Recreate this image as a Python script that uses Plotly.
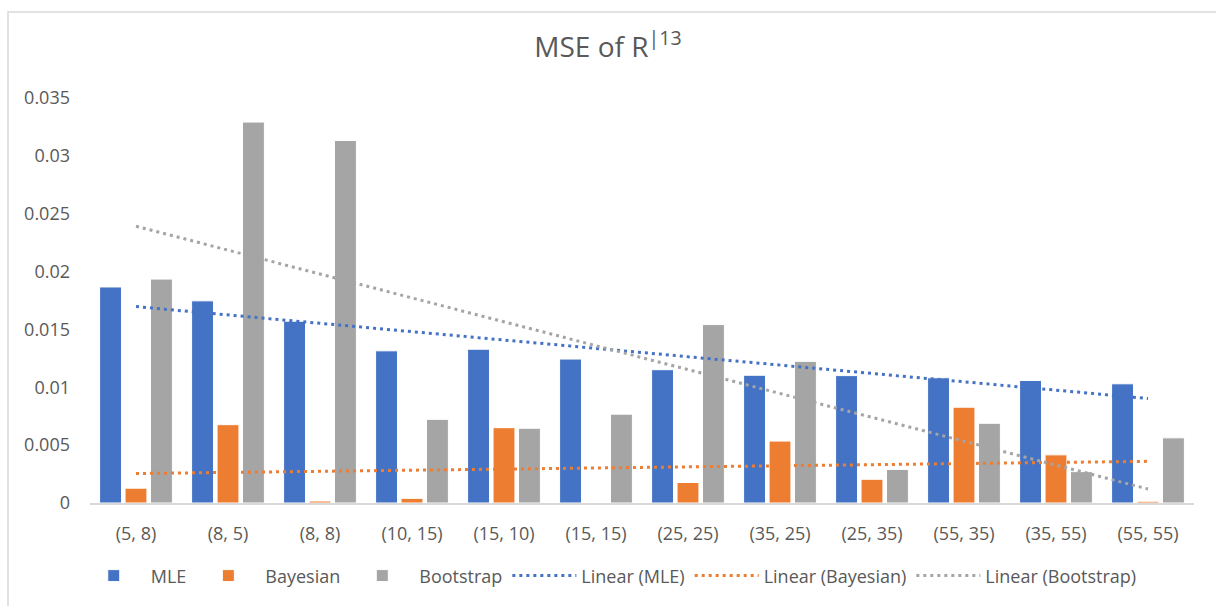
import numpy as np
import plotly.graph_objects as go

# Sample-size pairs (m, n)
categories = ["(5, 8)", "(8, 5)", "(8, 8)", "(10, 15)", "(15, 10)", "(15, 15)",
              "(25, 25)", "(35, 25)", "(25, 35)", "(55, 35)", "(35, 55)", "(55, 55)"]

mle = [0.01867, 0.01747, 0.01571, 0.01315, 0.01329, 0.01244,
       0.01152, 0.01104, 0.01101, 0.01082, 0.01059, 0.01030]
bayesian = [0.00128, 0.00677, 0.00017, 0.00040, 0.00651, 0.00000,
            0.00177, 0.00535, 0.00205, 0.00828, 0.00416, 0.00015]
bootstrap = [0.01935, 0.03292, 0.03133, 0.00723, 0.00646, 0.00768,
             0.01542, 0.01224, 0.00290, 0.00689, 0.00271, 0.00563]

y_ticks = [0, 0.005, 0.01, 0.015, 0.02, 0.025, 0.03, 0.035]
y_tick_text = ["0", "0.005", "0.01", "0.015", "0.02", "0.025", "0.03", "0.035"]

series = [("MLE", mle, "#4472C4"),
          ("Bayesian", bayesian, "#ED7D31"),
          ("Bootstrap", bootstrap, "#A5A5A5")]

FONT = "'Open Sans', 'Noto Sans', sans-serif"
TEXT_COLOR = "#595959"

fig = go.Figure()

for name, vals, color in series:
    fig.add_trace(go.Bar(
        x=categories, y=vals, name=name,
        marker=dict(color=color, line=dict(color="#FFFFFF", width=1)),
    ))

# Least-squares linear trend of each series over the category index
idx = np.arange(1, len(categories) + 1)
for name, vals, color in series:
    slope, intercept = np.polyfit(idx, np.array(vals), 1)
    fig.add_trace(go.Scatter(
        x=categories, y=slope * idx + intercept, name=f"Linear ({name})",
        mode="lines", line=dict(color=color, width=3, dash="3px,4px"),
    ))

fig.update_layout(
    width=1216, height=606,
    margin=dict(l=90, r=22, t=98, b=98),
    paper_bgcolor="white", plot_bgcolor="white",
    font=dict(family=FONT, color=TEXT_COLOR, size=18),
    title=dict(text="MSE of R<sup>|13</sup>", x=0.5, xanchor="center",
               y=1 - 47 / 606, yanchor="middle",
               font=dict(family=FONT, size=28, color=TEXT_COLOR)),
    barmode="group", bargap=0.17, bargroupgap=0.14,
    showlegend=True,
    legend=dict(orientation="h", x=-0.012, xanchor="left", y=-0.18, yanchor="middle",
                font=dict(family=FONT, size=18, color=TEXT_COLOR),
                traceorder="normal", itemwidth=64),
    xaxis=dict(showgrid=False, showline=True, linecolor="#D9D9D9", linewidth=1.5,
               ticks="", tickfont=dict(size=18, color=TEXT_COLOR), ticklabelstandoff=14),
    yaxis=dict(range=[0, 0.035], tickvals=y_ticks, ticktext=y_tick_text,
               showgrid=False, zeroline=False, showline=False, ticks="",
               tickfont=dict(size=18, color=TEXT_COLOR), ticklabelstandoff=19),
    shapes=[dict(type="rect", xref="paper", yref="paper",
                 x0=(8 - 90) / 1104, x1=(1230 - 90) / 1104,
                 y0=(508 - 620) / 410, y1=(508 - 11) / 410,
                 line=dict(color="#D9D9D9", width=1.5), layer="below")],
)

fig.write_html("out.html")
